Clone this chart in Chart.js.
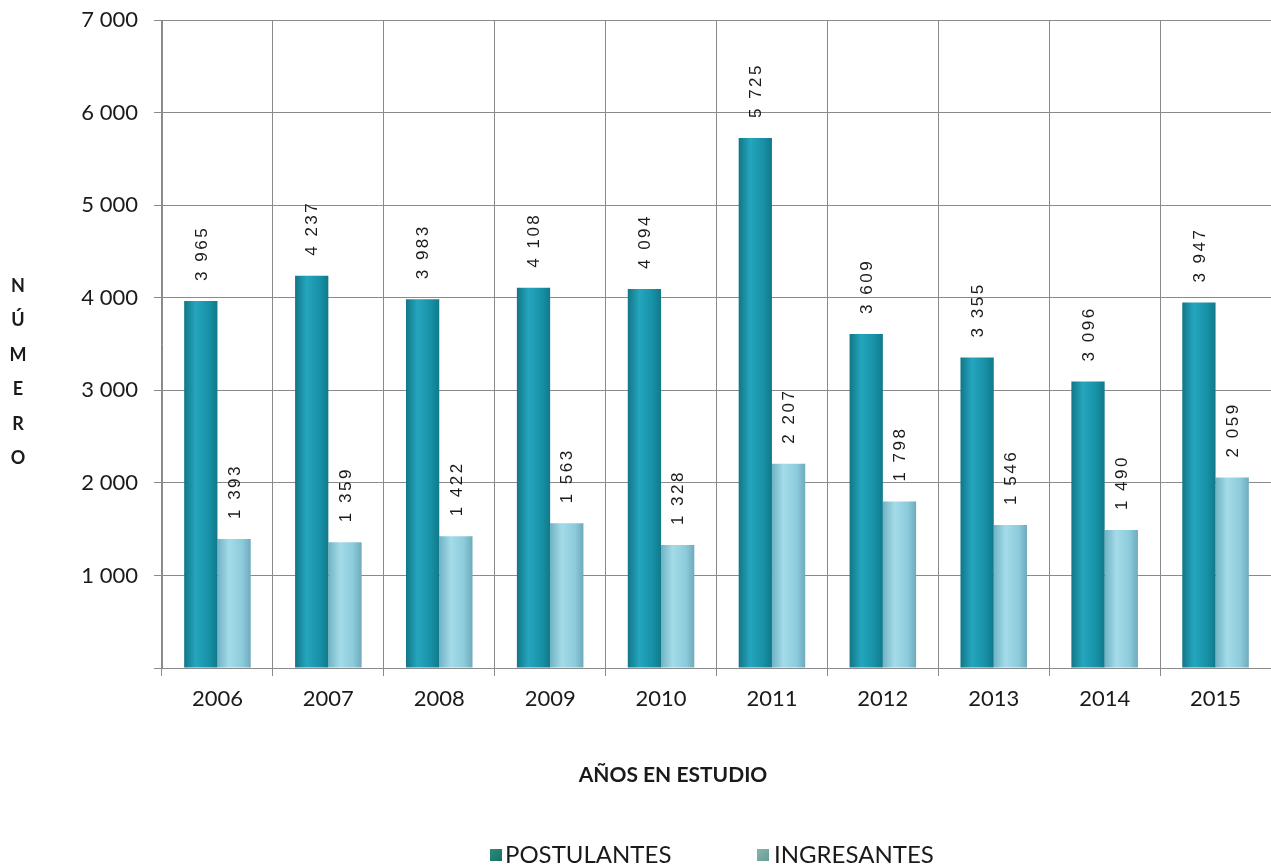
<!DOCTYPE html>
<html>
<head>
<meta charset="utf-8">
<script src="https://cdn.jsdelivr.net/npm/chart.js@4"></script>
<style>
html,body{margin:0;padding:0;background:#fff;}
#wrap{position:relative;width:1271px;height:868px;}
</style>
</head>
<body>
<div id="wrap"><canvas id="c" width="1271" height="868"></canvas></div>
<script>
const categories = ['2006','2007','2008','2009','2010','2011','2012','2013','2014','2015'];
const postulantes = [3965, 4237, 3983, 4108, 4094, 5725, 3609, 3355, 3096, 3947];
const ingresantes = [1393, 1359, 1422, 1563, 1328, 2207, 1798, 1546, 1490, 2059];
const seriesNames = ['POSTULANTES', 'INGRESANTES'];
const yTicks = [0, 1000, 2000, 3000, 4000, 5000, 6000, 7000];
const yTitle = 'NÚMERO';
const xTitle = 'AÑOS EN ESTUDIO';

const CAT_PCT = 0.6;
const palettes = [
  ['#127687', '#24a6be', '#1790a6', '#11798a'],
  ['#6fb3c4', '#a4dbe8', '#8ccbdb', '#6eaabb']
];
const legendColors = ['#2a9078', '#86b8b0'];

function fmt(v){ return String(v).replace(/\B(?=(\d{3})+(?!\d))/g, ' '); }

function barFill(c){
  const chart = c.chart;
  const xs = chart.scales && chart.scales.x;
  const pal = palettes[c.datasetIndex];
  if(!xs || !chart.chartArea || c.dataIndex === undefined) return pal[2];
  const cw = (xs.right - xs.left) / categories.length;
  const bw = cw * CAT_PCT / 2;
  const center = xs.getPixelForValue(c.dataIndex);
  const x0 = c.datasetIndex === 0 ? center - bw : center;
  const g = chart.ctx.createLinearGradient(x0, 0, x0 + bw, 0);
  g.addColorStop(0, pal[0]);
  g.addColorStop(0.35, pal[1]);
  g.addColorStop(0.75, pal[2]);
  g.addColorStop(1, pal[3]);
  return g;
}

const extras = {
  id: 'extras',
  afterDatasetsDraw(chart){
    const ctx = chart.ctx;
    ctx.save();
    ctx.fillStyle = '#1a1a1a';
    ctx.font = '17px "Liberation Sans", Arial, sans-serif';
    try { ctx.letterSpacing = '2.5px'; } catch(e){}
    ctx.textAlign = 'left';
    ctx.textBaseline = 'middle';
    chart.data.datasets.forEach((ds, di) => {
      const meta = chart.getDatasetMeta(di);
      meta.data.forEach((el, i) => {
        ctx.save();
        ctx.translate(el.x + 1, el.y - 20);
        ctx.rotate(-Math.PI / 2);
        ctx.fillText(fmt(ds.data[i]), 0, 0);
        ctx.restore();
      });
    });
    try { ctx.letterSpacing = '0px'; } catch(e){}
    ctx.restore();
  },
  afterDraw(chart){
    const ctx = chart.ctx;
    ctx.save();
    try { ctx.letterSpacing = '0px'; } catch(e){}
    ctx.fillStyle = '#1a1a1a';
    ctx.font = 'bold 18px Lato, sans-serif';
    ctx.textAlign = 'center';
    ctx.textBaseline = 'middle';
    const letters = Array.from(yTitle);
    letters.forEach((ch, k) => ctx.fillText(ch, 18, 286 + k * 34.5));
    ctx.font = 'bold 21px Lato, sans-serif';
    ctx.fillText(xTitle, 673, 775);
    ctx.font = '24px Lato, sans-serif';
    ctx.textAlign = 'left';
    const items = [[490, 505], [757, 774]];
    seriesNames.forEach((name, k) => {
      const g = ctx.createLinearGradient(items[k][0], 848, items[k][0] + 12, 860);
      g.addColorStop(0, legendColors[k]);
      g.addColorStop(1, k === 0 ? '#1d6f66' : '#6a9c96');
      ctx.fillStyle = g;
      ctx.fillRect(items[k][0], 849, 12, 12);
      ctx.fillStyle = '#1a1a1a';
      ctx.fillText(name, items[k][1], 855);
    });
    ctx.restore();
  }
};

new Chart(document.getElementById('c'), {
  type: 'bar',
  data: {
    labels: categories,
    datasets: [
      { label: seriesNames[0], data: postulantes, backgroundColor: barFill, borderWidth: 0 },
      { label: seriesNames[1], data: ingresantes, backgroundColor: barFill, borderWidth: 0 }
    ]
  },
  options: {
    responsive: false,
    animation: false,
    devicePixelRatio: 1,
    layout: { padding: { top: 20, left: 0, right: 0, bottom: 0 } },
    datasets: { bar: { categoryPercentage: CAT_PCT, barPercentage: 1.0 } },
    plugins: { legend: { display: false }, tooltip: { enabled: false } },
    scales: {
      x: {
        grid: { color: '#8a8a8a', lineWidth: 1, offset: true, tickLength: 8 },
        border: { color: '#8a8a8a' },
        ticks: { color: '#1a1a1a', font: { family: 'Lato', size: 22 }, padding: 10 },
        afterFit(s){ s.height = 200; s.paddingLeft = 0; s.paddingRight = 0; }
      },
      y: {
        min: 0, max: 7000,
        afterBuildTicks(s){ s.ticks = yTicks.map(v => ({ value: v })); },
        grid: { color: '#8a8a8a', lineWidth: 1, tickLength: 8 },
        border: { color: '#8a8a8a' },
        ticks: {
          color: '#1a1a1a', font: { family: 'Lato', size: 22 }, padding: 16,
          callback: v => v === 0 ? '' : fmt(v)
        },
        afterFit(s){ s.width = 162; s.paddingTop = 0; s.paddingBottom = 0; }
      }
    }
  },
  plugins: [extras]
});
</script>
</body>
</html>
